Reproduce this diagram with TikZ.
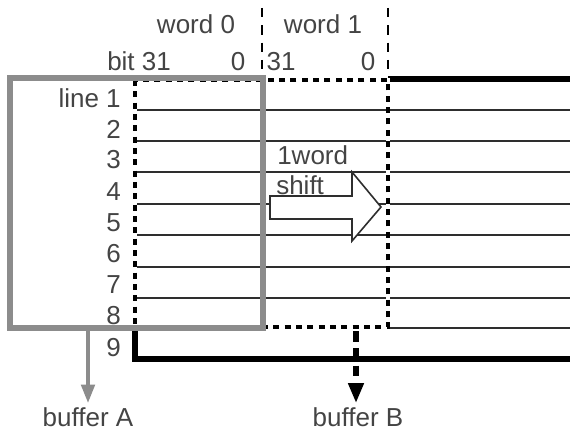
\documentclass[tikz,border=0pt]{standalone}
\usepackage{fontspec}
\setmainfont{Liberation Sans}
\usepackage{tikz}
\usetikzlibrary{arrows.meta, positioning}
\definecolor{bufgray}{HTML}{8C8C8C}
\definecolor{txtgray}{HTML}{444444}
\definecolor{rulegray}{HTML}{2E2E2E}

\begin{document}
\begin{tikzpicture}[
    x=0.75pt, y=-0.75pt,
    lbl/.style={
        font=\fontsize{19.5}{22}\selectfont, text=txtgray, inner sep=0pt
    },
    row/.style={draw=rulegray, line width=1.2pt},
    frame/.style={draw=black, line width=3.8pt},
    bufa/.style={draw=bufgray, line width=3.8pt},
    hatch/.style={
        draw=black, line width=3pt, dash pattern=on 4.5pt off 4pt,
        preaction={draw=white, line width=3.4pt}
    },
    wordsep/.style={draw=black, line width=1.8pt, dash pattern=on 7pt off 6pt},
    shiftarrow/.style={draw=rulegray, line width=1.2pt, fill=white},
    arrA/.style={
        -{Triangle[length=14pt, width=10pt]}, draw=bufgray, line width=3pt
    },
    arrB/.style={
        -{Triangle[length=15pt, width=11pt]}, draw=black, line width=3.8pt,
        dash pattern=on 8pt off 5pt
    },
]
\useasboundingbox (0,0) rectangle (570,438);

% buffer lines
\foreach \y in {110,141,172,204,235,267,298}
    \draw[row] (135,\y) -- (570,\y);
\draw[row] (388,328) -- (570,328);
\draw[frame] (388,79) -- (570,79);
\draw[frame] (135,328) -- (135,359) -- (570,359);

% word boundaries
\draw[wordsep] (262,8) -- (262,76);
\draw[wordsep] (388,8) -- (388,76);

% buffer B window, then buffer A on top
\draw[hatch] (135,80) rectangle (388,327);
\draw[bufa] (10,78) rectangle (263,328);

% 1 word shift
\draw[shiftarrow] (270,196) -- (352,196) -- (352,172) -- (381,207)
    -- (352,241) -- (352,219) -- (270,219) -- cycle;
\node[lbl, anchor=base west] (shift1) at (277,165) {1word};
\node[lbl, anchor=base west] (shift2) at (276,195) {shift};

% headers
\node[lbl] (word0) at (196,24) {word 0};
\node[lbl] (word1) at (323,24) {word 1};
\node[lbl, anchor=base west] (bit31a) at (107,71) {bit 31};
\node[lbl, anchor=base] (bit0a) at (238,71) {0};
\node[lbl, anchor=base] (bit31b) at (281,71) {31};
\node[lbl, anchor=base] (bit0b) at (368,71) {0};

% line numbers
\node[lbl, anchor=base east] (line1) at (121,108) {line 1};
\foreach \n/\yb in {2/139,3/169,4/200,5/231,6/262,7/293,8/324,9/356}
    \node[lbl, anchor=base east] (line\n) at (121,\yb) {\n};

% outputs
\node[lbl] (bufAlbl) at (88,417) {buffer A};
\node[lbl] (bufBlbl) at (358,417) {buffer B};
\coordinate (aout) at (88,331);
\coordinate (bout) at (356,331);
\draw[arrA] (aout) -- ([yshift=3pt]bufAlbl.north -| aout);
\draw[arrB] (bout) -- ([yshift=3pt]bufBlbl.north -| bout);
\end{tikzpicture}
\end{document}
